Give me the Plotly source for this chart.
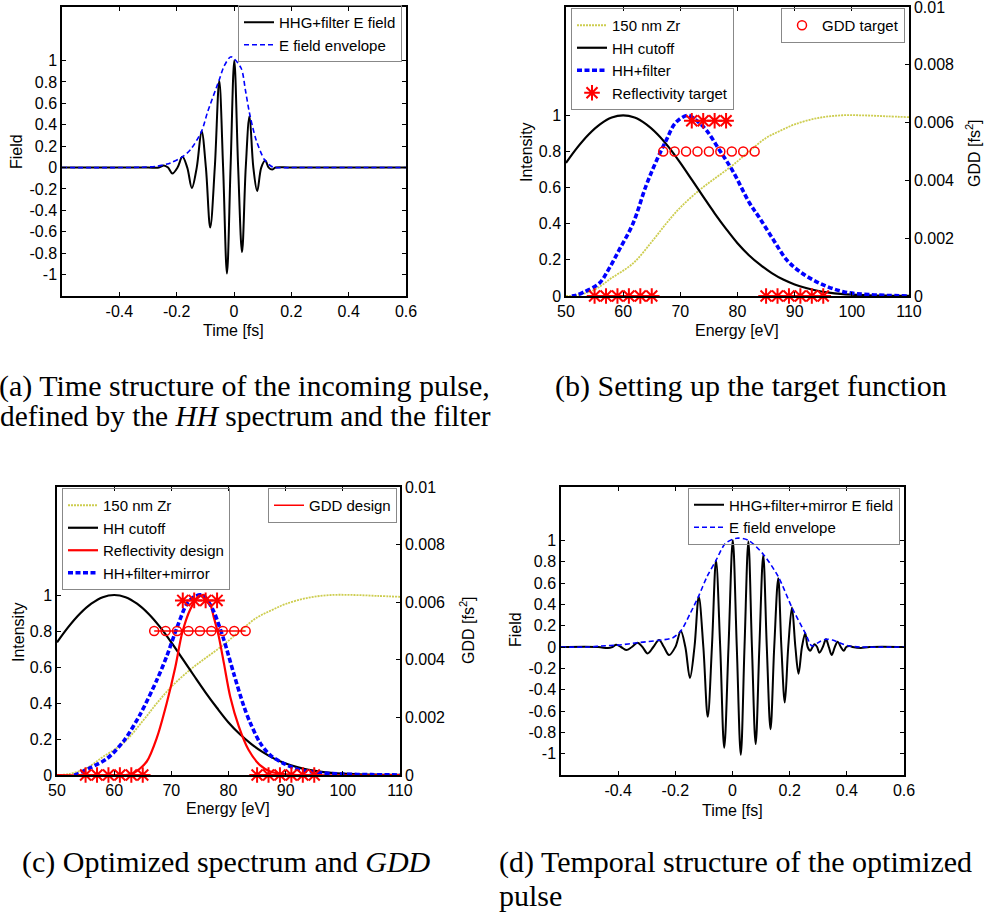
import plotly.graph_objects as go

# ---------------- data ----------------
# (a) incoming pulse
t_a = [-0.6, -0.4, -0.3, -0.262, -0.245, -0.23, -0.215, -0.197, -0.18, -0.163, -0.147, -0.13,
       -0.113, -0.098, -0.083, -0.067, -0.0515, -0.038, -0.0246, -0.012, 0.001, 0.0145, 0.028,
       0.041, 0.054, 0.0675, 0.081, 0.095, 0.109, 0.121, 0.133, 0.145, 0.2, 0.6]
field_a = [0, 0, 0, 0, 0.02, 0, -0.056, 0, 0.10, 0, -0.19, 0, 0.34, 0, -0.56, 0, 0.81, 0, -0.99,
           0, 1.0, 0, -0.79, 0, 0.48, 0, -0.22, 0, 0.066, 0, -0.019, 0, 0, 0]
te_a = [-0.6, -0.4, -0.326, -0.268, -0.221, -0.18, -0.151, -0.113, -0.092, -0.0515, -0.034,
        -0.0105, 0.0246, 0.04, 0.054, 0.077, 0.106, 0.13, 0.144, 0.2, 0.6]
env_a = [0, 0, 0.003, 0.012, 0.044, 0.10, 0.17, 0.34, 0.52, 0.82, 0.95, 1.035, 0.93, 0.72, 0.51,
         0.26, 0.075, 0.012, 0, 0, 0]

# (b)/(c) spectra
E_hh = [50, 52, 54, 56, 58, 60, 62, 64, 66, 68, 70, 72, 74, 76, 78, 80, 82, 84, 86, 88, 90, 92,
        94, 96, 98, 100, 102, 104, 106, 108, 110]
hh_cutoff = [0.737, 0.823, 0.896, 0.952, 0.988, 1.0, 0.988, 0.952, 0.896, 0.823, 0.737, 0.644,
             0.550, 0.458, 0.372, 0.292, 0.226, 0.172, 0.127, 0.091, 0.064, 0.044, 0.029, 0.019,
             0.012, 0.0076, 0.0046, 0.0027, 0.0016, 0.0009, 0.0005]

E_zr = [50, 52, 55, 58, 61.7, 65, 67.5, 70, 73.3, 76, 79.2, 82, 85, 87.5, 90, 94, 98, 102, 106, 110]
zr_150 = [0, 0.005, 0.035, 0.1, 0.18, 0.30, 0.40, 0.49, 0.585, 0.65, 0.725, 0.8, 0.875, 0.915,
          0.95, 0.985, 1.0, 1.0, 0.995, 0.99]

E_hf = [51, 51.7, 53, 55.8, 57.5, 59.3, 61.7, 64, 65.7, 67.5, 69.2, 71.3, 72.5, 74.5, 76.8, 79.2,
        82.1, 83.9, 86.3, 88.6, 90.9, 94.4, 98.5, 103, 110]
hh_filter = [0, 0.003, 0.02, 0.07, 0.15, 0.255, 0.40, 0.61, 0.74, 0.86, 0.96, 1.0, 0.98, 0.92,
             0.81, 0.69, 0.515, 0.43, 0.31, 0.2, 0.135, 0.07, 0.024, 0.008, 0]

E_refl_target = [55, 57, 59, 61, 63, 65, None, 72, 74, 76, 78, None, 85, 87, 89, 91, 93, 95]
refl_target = [0, 0, 0, 0, 0, 0, None, 0.97, 0.97, 0.97, 0.97, None, 0, 0, 0, 0, 0, 0]

E_gdd = [67, 69, 71, 73, 75, 77, 79, 81, 83]
gdd_target = [0.005] * 9
E_gdd_design = [67, 83]
gdd_design = [0.005, 0.005]

E_rd = [50, 62, 63.4, 65.7, 67.5, 69.2, 70.7, 71.9, 73.3, 74.5, 75.7, 76.8, 77.4, 78.3, 79.2,
        80.3, 81.8, 83.5, 85.5, 87.3, 89.6, 92, 110]
refl_design = [0, 0, 0.01, 0.075, 0.21, 0.40, 0.60, 0.79, 0.92, 0.98, 1.0, 0.95, 0.88, 0.77, 0.62,
               0.435, 0.27, 0.14, 0.055, 0.02, 0.005, 0, 0]

E_hfm = [53, 53.5, 55.8, 58.7, 61.7, 64.6, 67.5, 69.2, 71, 72.7, 74, 75.2, 76.3, 77.4, 79.2, 80.9,
         82.7, 83.8, 85.5, 87.3, 89.6, 92.5, 95.4, 100, 105, 110]
hh_filter_mirror = [0, 0.005, 0.04, 0.09, 0.19, 0.34, 0.53, 0.66, 0.82, 0.95, 0.99, 1.0, 0.97,
                    0.91, 0.75, 0.565, 0.38, 0.29, 0.18, 0.11, 0.065, 0.028, 0.014, 0.005, 0.002, 0]

# (d) optimized pulse
t_d = [-0.6, -0.47, -0.436, -0.42, -0.407, -0.39, -0.372, -0.352, -0.332, -0.315, -0.297, -0.277,
       -0.257, -0.24, -0.222, -0.2, -0.181, -0.165, -0.149, -0.133, -0.118, -0.102, -0.0866, -0.072,
       -0.0577, -0.043, -0.029, -0.014, 0.001, 0.015, 0.029, 0.042, 0.0555, 0.068, 0.081, 0.094,
       0.1075, 0.12, 0.133, 0.146, 0.16, 0.171, 0.183, 0.195, 0.208, 0.22, 0.231, 0.243, 0.2545,
       0.263, 0.272, 0.28, 0.287, 0.296, 0.304, 0.316, 0.327, 0.337, 0.347, 0.358, 0.368, 0.379,
       0.389, 0.398, 0.408, 0.42, 0.449, 0.48, 0.6]
field_d = [0, 0, -0.01, 0, 0.02, 0, -0.028, 0, 0.04, 0, -0.06, 0, 0.066, 0, -0.075, 0, 0.15, 0,
           -0.29, 0, 0.47, 0, -0.655, 0, 0.81, 0, -0.945, 0, 1.0, 0, -1.01, 0, 0.99, 0, -0.91, 0,
           0.86, 0, -0.77, 0, 0.645, 0, -0.52, 0, 0.37, 0, -0.25, 0, 0.128, 0, -0.035, 0, 0.025, 0,
           -0.053, 0, 0.072, 0, -0.075, 0, 0.05, 0, -0.035, 0, 0.01, 0, -0.01, 0, 0]
te_d = [-0.6, -0.5, -0.459, -0.4, -0.332, -0.257, -0.21, -0.181, -0.147, -0.118, -0.089, -0.058,
        -0.025, 0.015, 0.0555, 0.1075, 0.16, 0.208, 0.2545, 0.278, 0.305, 0.327, 0.35, 0.373,
        0.408, 0.45, 0.6]
env_d = [0, 0, 0.01, 0.018, 0.04, 0.063, 0.085, 0.15, 0.32, 0.48, 0.66, 0.81, 0.97, 1.02, 1.0,
         0.87, 0.66, 0.37, 0.13, 0.01, 0.05, 0.072, 0.065, 0.04, 0.01, 0, 0]

field_ticks = [-1, -0.8, -0.6, -0.4, -0.2, 0, 0.2, 0.4, 0.6, 0.8, 1]
time_ticks = [-0.4, -0.2, 0, 0.2, 0.4, 0.6]
energy_ticks = [50, 60, 70, 80, 90, 100, 110]
int_ticks = [0, 0.2, 0.4, 0.6, 0.8, 1]
gdd_ticks = [0, 0.002, 0.004, 0.006, 0.008, 0.01]

# ---------------- styling ----------------
W, H = 984, 914
SANS = "Liberation Sans, Arial, sans-serif"
SERIF = "Liberation Serif, Times New Roman, serif"
BLUE, RED, BLACK, ZR = "#0000ff", "#ff0000", "#000000", "rgb(205,205,80)"


def px_x(p):
    return p / W


def px_y(p):
    return 1 - p / H


def lbl(v):
    return "%g" % v


fig = go.Figure()
STAR = dict(symbol="asterisk-open", size=13, color=RED, line=dict(color=RED, width=2))
CIRC = dict(symbol="circle-open", size=9, color=RED, line=dict(color=RED, width=1.5))

# (a)
fig.add_trace(go.Scatter(x=t_a, y=field_a, mode="lines", name="HHG+filter E field",
                         line=dict(color=BLACK, width=2, shape="spline", smoothing=1),
                         xaxis="x", yaxis="y", legend="legend"))
fig.add_trace(go.Scatter(x=te_a, y=env_a, mode="lines", name="E field envelope",
                         line=dict(color=BLUE, width=1.6, dash="5px,3px", shape="spline", smoothing=0.8),
                         xaxis="x", yaxis="y", legend="legend"))

# (b)
fig.add_trace(go.Scatter(x=E_zr, y=zr_150, mode="lines", name="150 nm Zr",
                         line=dict(color=ZR, width=1.8, dash="2px,1px", shape="spline"),
                         xaxis="x2", yaxis="y2", legend="legend2"))
fig.add_trace(go.Scatter(x=E_hh, y=hh_cutoff, mode="lines", name="HH cutoff",
                         line=dict(color=BLACK, width=2.2, shape="spline"),
                         xaxis="x2", yaxis="y2", legend="legend2"))
fig.add_trace(go.Scatter(x=E_hf, y=hh_filter, mode="lines", name="HH+filter",
                         line=dict(color=BLUE, width=3.6, dash="5px,2.5px", shape="spline"),
                         xaxis="x2", yaxis="y2", legend="legend2"))
fig.add_trace(go.Scatter(x=E_refl_target, y=refl_target, mode="markers", name="Reflectivity target",
                         marker=STAR, cliponaxis=False, xaxis="x2", yaxis="y2", legend="legend2"))
fig.add_trace(go.Scatter(x=E_gdd, y=gdd_target, mode="markers", name="GDD target",
                         marker=CIRC, cliponaxis=False, xaxis="x2", yaxis="y3", legend="legend3"))

# (c)
fig.add_trace(go.Scatter(x=E_zr, y=zr_150, mode="lines", name="150 nm Zr",
                         line=dict(color=ZR, width=1.8, dash="2px,1px", shape="spline"),
                         xaxis="x3", yaxis="y4", legend="legend4"))
fig.add_trace(go.Scatter(x=E_hh, y=hh_cutoff, mode="lines", name="HH cutoff",
                         line=dict(color=BLACK, width=2.2, shape="spline"),
                         xaxis="x3", yaxis="y4", legend="legend4"))
fig.add_trace(go.Scatter(x=E_rd, y=refl_design, mode="lines", name="Reflectivity design",
                         line=dict(color=RED, width=2.2, shape="spline", smoothing=0.8),
                         xaxis="x3", yaxis="y4", legend="legend4"))
fig.add_trace(go.Scatter(x=E_hfm, y=hh_filter_mirror, mode="lines", name="HH+filter+mirror",
                         line=dict(color=BLUE, width=3.6, dash="5px,2.5px", shape="spline", smoothing=0.8),
                         xaxis="x3", yaxis="y4", legend="legend4"))
fig.add_trace(go.Scatter(x=E_refl_target, y=refl_target, mode="lines+markers", showlegend=False,
                         name="Reflectivity target", line=dict(color=RED, width=1.2),
                         marker=STAR, cliponaxis=False, xaxis="x3", yaxis="y4"))
fig.add_trace(go.Scatter(x=E_gdd_design, y=gdd_design, mode="lines", name="GDD design",
                         line=dict(color=RED, width=1.5),
                         xaxis="x3", yaxis="y5", legend="legend5"))
fig.add_trace(go.Scatter(x=E_gdd, y=gdd_target, mode="markers", showlegend=False, name="GDD target",
                         marker=CIRC, cliponaxis=False, xaxis="x3", yaxis="y5"))

# (d)
fig.add_trace(go.Scatter(x=t_d, y=field_d, mode="lines", name="HHG+filter+mirror E field",
                         line=dict(color=BLACK, width=2, shape="spline", smoothing=1),
                         xaxis="x4", yaxis="y6", legend="legend6"))
fig.add_trace(go.Scatter(x=te_d, y=env_d, mode="lines", name="E field envelope",
                         line=dict(color=BLUE, width=1.6, dash="5px,3px", shape="spline", smoothing=0.8),
                         xaxis="x4", yaxis="y6", legend="legend6"))

# ---------------- axes ----------------
tickfont = dict(family=SANS, size=16, color="black")
common = dict(showgrid=False, zeroline=False, showline=True, linecolor="black", linewidth=1.5,
              ticks="inside", ticklen=4, tickwidth=1, tickcolor="black", tickfont=tickfont,
              ticklabeloverflow="allow")


def xax(dom, rng, tv, anchor):
    return dict(common, domain=dom, range=rng, tickvals=tv,
                ticktext=[lbl(v) for v in tv], anchor=anchor, mirror="ticks")


def yax(dom, rng, tv, anchor, mirror="ticks", **kw):
    d = dict(common, domain=dom, range=rng, tickvals=tv,
             ticktext=[lbl(v) for v in tv], anchor=anchor, mirror=mirror)
    d.update(kw)
    return d


dom_a_x = [px_x(62), px_x(406)]
dom_top_y = [px_y(296), px_y(7)]
dom_b_x = [px_x(566), px_x(909)]
dom_c_x = [px_x(57), px_x(400)]
dom_d_x = [px_x(561), px_x(904)]
dom_bot_y = [px_y(775), px_y(487)]

layout = dict(
    width=W, height=H, margin=dict(l=0, r=0, t=0, b=0, autoexpand=False),
    paper_bgcolor="white", plot_bgcolor="white", showlegend=True,
    xaxis=xax(dom_a_x, [-0.6, 0.6], time_ticks, "y"),
    yaxis=yax(dom_top_y, [-1.2, 1.5], field_ticks, "x"),
    xaxis2=xax(dom_b_x, [50, 110], energy_ticks, "y2"),
    yaxis2=yax(dom_top_y, [0, 1.6], int_ticks, "x2", mirror=False),
    yaxis3=yax(dom_top_y, [0, 0.01], gdd_ticks, "x2", mirror=False, overlaying="y2", side="right"),
    xaxis3=xax(dom_c_x, [50, 110], energy_ticks, "y4"),
    yaxis4=yax(dom_bot_y, [0, 1.6], int_ticks, "x3", mirror=False),
    yaxis5=yax(dom_bot_y, [0, 0.01], gdd_ticks, "x3", mirror=False, overlaying="y4", side="right"),
    xaxis4=xax(dom_d_x, [-0.6, 0.6], time_ticks, "y6"),
    yaxis6=yax(dom_bot_y, [-1.2, 1.5], field_ticks, "x4"),
)

legfont = dict(family=SANS, size=15, color="black")
legbase = dict(bgcolor="rgba(255,255,255,0)", bordercolor="#888888", borderwidth=1, font=legfont,
               itemwidth=30, traceorder="normal", yanchor="top", tracegroupgap=0)
layout["legend"] = dict(legbase, x=px_x(402), y=px_y(5), xanchor="right")
layout["legend2"] = dict(legbase, x=px_x(571), y=px_y(8), xanchor="left")
layout["legend3"] = dict(legbase, x=px_x(905), y=px_y(8), xanchor="right")
layout["legend4"] = dict(legbase, x=px_x(62), y=px_y(488), xanchor="left")
layout["legend5"] = dict(legbase, x=px_x(397), y=px_y(488), xanchor="right")
layout["legend6"] = dict(legbase, x=px_x(900), y=px_y(487.5), xanchor="right")

fig.update_layout(**layout)

# ---------------- text ----------------
def note(text, x, y, size=16, family=SANS, angle=0, xanchor="center", yanchor="middle"):
    fig.add_annotation(text=text, x=px_x(x), y=px_y(y), xref="paper", yref="paper",
                       showarrow=False, textangle=angle, xanchor=xanchor, yanchor=yanchor,
                       font=dict(family=family, size=size, color="black"))

# axis titles
note("Field", 17, 152, angle=-90)
note("Time [fs]", 233, 330)
note("Intensity", 527, 152, angle=-90)
note("Energy [eV]", 737, 330)
note("GDD [fs<sup>2</sup>]", 973, 153, angle=-90)
note("Intensity", 18, 632, angle=-90)
note("Energy [eV]", 228, 808)
note("GDD [fs<sup>2</sup>]", 467, 630, angle=-90)
note("Field", 515, 630, angle=-90)
note("Time [fs]", 732, 810)

# captions
note("(a) Time structure of the incoming pulse,", 492, 386, size=30, family=SERIF, xanchor="right")
note("defined by the <i>HH</i> spectrum and the filter", 493, 416, size=29.4, family=SERIF, xanchor="right")
note("(b) Setting up the target function", 553, 386, size=30, family=SERIF, xanchor="left")
note("(c) Optimized spectrum and <i>GDD</i>", 20, 862, size=30, family=SERIF, xanchor="left")
note("(d) Temporal structure of the optimized", 497, 862, size=30, family=SERIF, xanchor="left")
note("pulse", 497, 895, size=30, family=SERIF, xanchor="left")

fig.write_html("out.html")
